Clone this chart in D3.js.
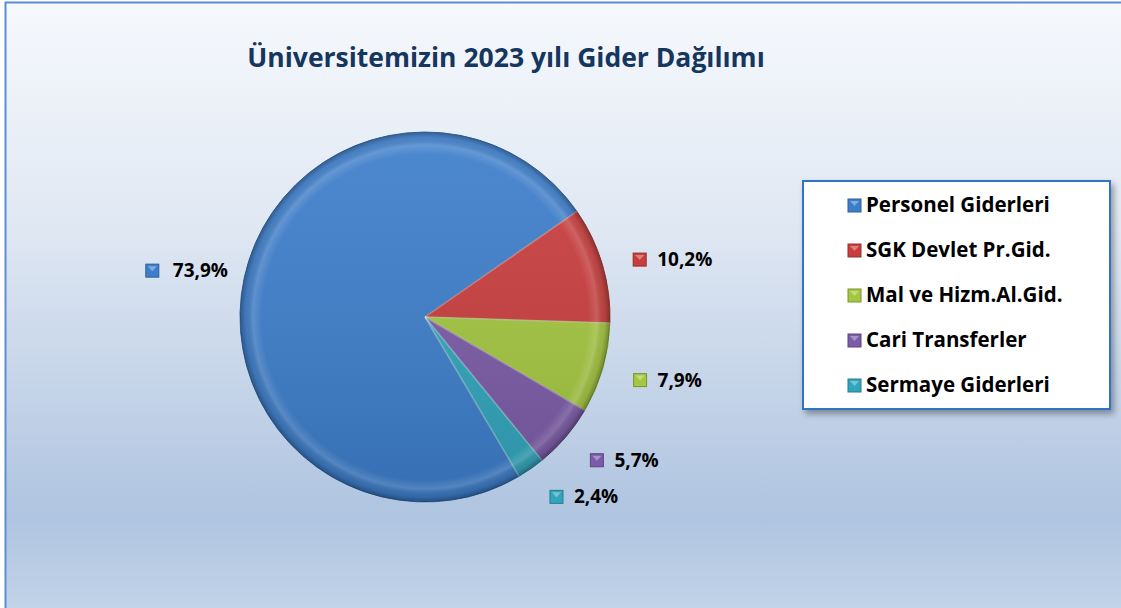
<!DOCTYPE html>
<html>
<head>
<meta charset="utf-8">
<title>Gider Dağılımı</title>
<script src="https://d3js.org/d3.v7.min.js"></script>
<style>
  body { margin: 0; background: #fff; }
  text { font-family: 'Open Sans', Lato, sans-serif; font-weight: 700; }
</style>
</head>
<body>
<script>
// data
var categories = ["Personel Giderleri", "SGK Devlet Pr.Gid.", "Mal ve Hizm.Al.Gid.", "Cari Transferler", "Sermaye Giderleri"];
var shares = [73.9, 10.2, 7.9, 5.7, 2.4];
var labels = ["73,9%", "10,2%", "7,9%", "5,7%", "2,4%"];
var colors = ["#3d7ecb", "#c93d3d", "#a4c73f", "#7c5ba8", "#31a5bd"];
var title = "Üniversitemizin 2023 yılı Gider Dağılımı";

var W = 1121, H = 608;
var cx = 425, cy = 317, R = 185;

var svg = d3.select("body").append("svg").attr("width", W).attr("height", H);
var defs = svg.append("defs");

// background gradient
var bg = defs.append("linearGradient").attr("id", "bg").attr("x1", 0).attr("y1", 0).attr("x2", 0).attr("y2", 1);
bg.append("stop").attr("offset", "0%").attr("stop-color", "#f6f9fd");
bg.append("stop").attr("offset", "35%").attr("stop-color", "#e0e8f3");
bg.append("stop").attr("offset", "82%").attr("stop-color", "#afc4e0");
bg.append("stop").attr("offset", "100%").attr("stop-color", "#c6d7ea");

svg.append("rect").attr("width", W).attr("height", H).attr("fill", "#fff");
svg.append("rect")
    .attr("x", 5.5).attr("y", 2.5).attr("width", W + 20).attr("height", H + 20)
    .attr("fill", "url(#bg)").attr("stroke", "#5b8ed6").attr("stroke-width", 2);

// title
svg.append("text")
    .attr("x", 506).attr("y", 67)
    .attr("text-anchor", "middle")
    .attr("font-size", 26.5)
    .attr("fill", "#14365f")
    .text(title);

// bevel gradients
var shade = defs.append("radialGradient").attr("id", "shade")
    .attr("gradientUnits", "userSpaceOnUse")
    .attr("cx", cx).attr("cy", cy).attr("r", R);
shade.append("stop").attr("offset", "0%").attr("stop-color", "#fff").attr("stop-opacity", 0);
shade.append("stop").attr("offset", "88%").attr("stop-color", "#fff").attr("stop-opacity", 0.0);
shade.append("stop").attr("offset", "93%").attr("stop-color", "#fff").attr("stop-opacity", 0.14);
shade.append("stop").attr("offset", "97%").attr("stop-color", "#000").attr("stop-opacity", 0.05);
shade.append("stop").attr("offset", "100%").attr("stop-color", "#000").attr("stop-opacity", 0.3);

var vshade = defs.append("linearGradient").attr("id", "vshade").attr("x1", 0).attr("y1", 0).attr("x2", 0).attr("y2", 1);
vshade.append("stop").attr("offset", "0%").attr("stop-color", "#fff").attr("stop-opacity", 0.08);
vshade.append("stop").attr("offset", "100%").attr("stop-color", "#000").attr("stop-opacity", 0.12);

var blur = defs.append("filter").attr("id", "soft");
blur.append("feGaussianBlur").attr("stdDeviation", 0.6);

var shadow = defs.append("filter").attr("id", "shadow").attr("x", "-10%").attr("y", "-10%").attr("width", "130%").attr("height", "130%");
shadow.append("feDropShadow").attr("dx", 3).attr("dy", 4).attr("stdDeviation", 3)
    .attr("flood-color", "#000").attr("flood-opacity", 0.35);

// pie: SGK slice starts about 55 deg clockwise from 12 o'clock
var sgkStart = 55.2 * Math.PI / 180;
var total = d3.sum(shares);
var start = sgkStart - shares[0] / total * 2 * Math.PI;
var pie = d3.pie().sort(null).startAngle(start).endAngle(start + 2 * Math.PI);
var arcs = pie(shares);
var arc = d3.arc().innerRadius(0).outerRadius(R);

var g = svg.append("g").attr("transform", "translate(" + cx + "," + cy + ")");
g.selectAll("path.slice")
    .data(arcs)
    .enter().append("path")
    .attr("class", "slice")
    .attr("d", arc)
    .attr("fill", function(d, i) { return colors[i]; })
    .attr("stroke", function(d, i) { return d3.rgb(colors[i]).darker(0.6); })
    .attr("stroke-width", 1)
    .attr("filter", "url(#soft)");

g.append("circle").attr("r", R).attr("fill", "url(#vshade)");
svg.append("circle").attr("cx", cx).attr("cy", cy).attr("r", R).attr("fill", "url(#shade)");

// slice edge highlights
g.selectAll("path.edge")
    .data(arcs)
    .enter().append("path")
    .attr("class", "edge")
    .attr("d", function(d) {
        var a = d.startAngle;
        return "M0,0L" + (Math.sin(a) * R) + "," + (-Math.cos(a) * R);
    })
    .attr("stroke", "#fff").attr("stroke-opacity", 0.35).attr("stroke-width", 1.5);

// data labels
var labelR = 215;
function markerSquare(sel, x, y, c) {
    sel.append("rect").attr("x", x).attr("y", y).attr("width", 13).attr("height", 13)
        .attr("fill", c).attr("stroke", d3.rgb(c).darker(0.8)).attr("stroke-width", 1);
    sel.append("path")
        .attr("d", "M" + (x + 2) + "," + (y + 2) + "L" + (x + 11) + "," + (y + 2) + "L" + (x + 6.5) + "," + (y + 7) + "Z")
        .attr("fill", "#fff").attr("fill-opacity", 0.35);
}

arcs.forEach(function(d, i) {
    var mid = (d.startAngle + d.endAngle) / 2;
    var px = cx + Math.sin(mid) * labelR;
    var py = cy - Math.cos(mid) * labelR;
    var lg = svg.append("g");
    if (Math.sin(mid) < 0) {
        // left side: right end of label near px
        var tx = px + 13;
        var t = lg.append("text").attr("x", tx).attr("y", py + 6).attr("text-anchor", "end")
            .attr("font-size", 19).attr("fill", "#000").text(labels[i]);
        var tw = t.node().getComputedTextLength();
        markerSquare(lg, tx - tw - 27, py - 7, colors[i]);
    } else {
        py += 4;
        markerSquare(lg, px + 2, py - 7, colors[i]);
        lg.append("text").attr("x", px + 26).attr("y", py + 6)
            .attr("font-size", 19).attr("fill", "#000").text(labels[i]);
    }
});

// legend
var leg = svg.append("g");
leg.append("rect").attr("x", 803).attr("y", 181).attr("width", 307).attr("height", 228)
    .attr("fill", "#fff").attr("stroke", "#2e75c6").attr("stroke-width", 2)
    .attr("filter", "url(#shadow)");
var legY = d3.scalePoint().domain(categories).range([205, 385]);
categories.forEach(function(c, i) {
    var y = legY(c);
    markerSquare(leg, 848, y - 6, colors[i]);
    leg.append("text").attr("x", 866).attr("y", y + 7)
        .attr("font-size", 20.5).attr("fill", "#000").text(c);
});
</script>
</body>
</html>
